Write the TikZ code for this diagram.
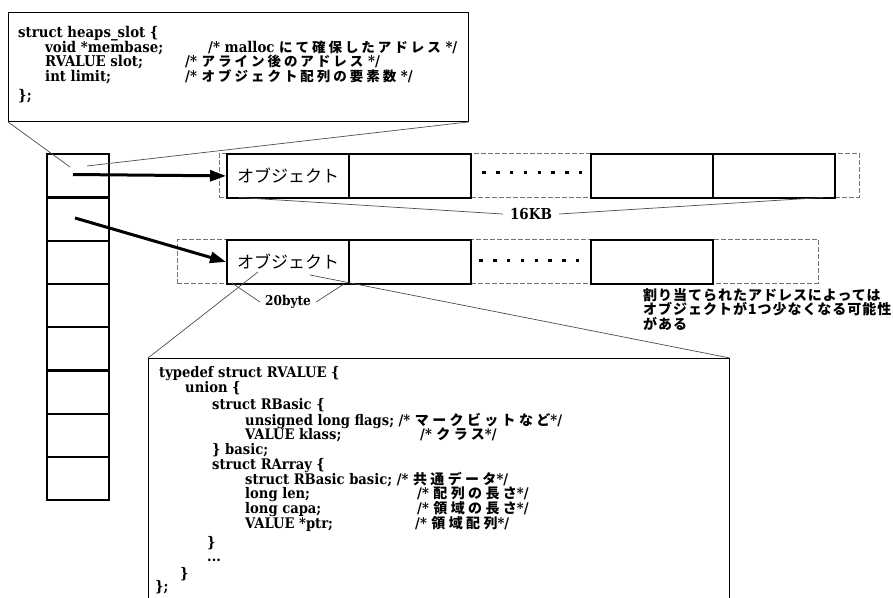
\documentclass[tikz,border=0pt]{standalone}
\usepackage{fontspec}
\setmainfont{DejaVu Serif}[FakeStretch=0.9]
\newfontfamily\jpa[LetterSpace=22]{Noto Sans CJK JP}
\newfontfamily\jpb[LetterSpace=24]{Noto Sans CJK JP}
\newfontfamily\jpc{Noto Sans CJK JP}
\newfontfamily\jpn[LetterSpace=7]{Noto Sans CJK JP}
\usetikzlibrary{arrows.meta}
\newcommand\ja[1]{{\jpa\bfseries\fontsize{13.5}{13.5}\selectfont #1}}
\newcommand\jb[1]{{\jpb\bfseries\fontsize{14}{14}\selectfont #1}}
\begin{document}
\begin{tikzpicture}[x=1pt,y=-1pt,
  thinln/.style={line width=0.7pt, draw=black!70},
  dashbox/.style={draw=black!55, line width=0.7pt, dash pattern=on 5pt off 2pt, inner sep=0pt, anchor=north west},
  cellbox/.style={draw, line width=2.3pt, minimum width=122pt, minimum height=43.5pt, inner sep=0pt, anchor=north west, font=\jpc\fontsize{17}{17}\selectfont},
  slotbox/.style={draw, line width=2.3pt, minimum width=62pt, minimum height=43.25pt, inner sep=0pt, anchor=north west},
  codebox/.style={draw, line width=0.9pt, inner sep=0pt, anchor=north west, fill=white},
  codeA/.style={anchor=base west, inner sep=0pt, text height=9.5pt, text depth=2.5pt, font=\bfseries\fontsize{14.8}{14.8}\selectfont},
  codeB/.style={anchor=base west, inner sep=0pt, text height=10pt, text depth=2.5pt, font=\bfseries\fontsize{14.6}{14.6}\selectfont},
  ptr/.style={line width=3pt, -{Triangle[length=16pt,width=11pt]}},
]
\useasboundingbox (0,0) rectangle (893,597);
\clip (0,0) rectangle (893,597);

% callout boxes
\node[codebox, minimum width=460pt, minimum height=109pt] (hs) at (8,12) {};
\node[codebox, minimum width=581pt, minimum height=260pt] (rv) at (148,358) {};

% slot column
\foreach \i in {0,...,7} \node[slotbox] (s\i) at (46,153+43.25*\i) {};

% row 1
\node[dashbox, minimum width=640pt, minimum height=43.5pt] (r1) at (219,153) {};
\node[cellbox] (a1) at (226,153) {オブジェクト};
\node[cellbox] (a2) at (348,153) {};
\node[cellbox] (a3) at (590,153) {};
\node[cellbox] (a4) at (712,153) {};
% row 2
\node[dashbox, minimum width=641pt, minimum height=43.5pt] (r2) at (177,239) {};
\node[cellbox] (b1) at (226,239) {オブジェクト};
\node[cellbox] (b2) at (348,239) {};
\node[cellbox] (b3) at (590,239) {};

% dots
\foreach \k in {0,...,7} {
  \fill (482.3+13.8*\k,171) rectangle +(3.4,3.4);
  \fill (479.3+13.8*\k,258.5) rectangle +(3.4,3.4);
}

% pointers
\coordinate (p1) at (73,174.5);
\coordinate (p2) at (75,218);
\draw[ptr] (p1) -- (a1.west);
\draw[ptr] (p2) -- (b1.west);

% callout lines
\coordinate (c1) at (70,167);
\coordinate (c2) at (87,166);
\draw[thinln] (hs.south west) -- (c1);
\draw[thinln] (c2) -- (hs.south east);
\coordinate (c3) at (258,272);
\coordinate (c4) at (310,275);
\draw[thinln] (rv.north west) -- (c3);
\draw[thinln] (c4) -- (rv.north east);

% 16KB
\node[font=\bfseries\fontsize{15}{15}\selectfont, inner xsep=7pt, inner ysep=1pt] (kb) at (531,214) {16KB};
\coordinate (k1) at (239,197.5);
\coordinate (k2) at (823,197.5);
\draw[thinln] (k1) -- (kb.west);
\draw[thinln] (kb.east) -- (k2);

% 20byte
\node[font=\bfseries\fontsize{13.5}{13.5}\selectfont, inner xsep=5pt, inner ysep=1pt] (tb) at (288,302) {20byte};
\coordinate (t1) at (232,283);
\coordinate (t2) at (344,284);
\draw[thinln] (t1) -- (tb.west);
\draw[thinln] (tb.east) -- (t2);

% note
\node[anchor=north west, font=\jpn\bfseries\fontsize{14}{12.7}\selectfont, align=left, inner sep=0pt] (note) at (643,288) {割り当てられたアドレスによっては\\オブジェクトが1つ少なくなる可能性\\がある};

% heaps_slot code
\node[codeA] (h1) at (18,37) {struct heaps\_slot \{};
\node[codeA] (h2) at (45,52) {void *membase;};
\node[codeA] (h2c) at (208,52) {/* malloc \ja{にて確保したアドレス} */};
\node[codeA] (h3) at (45,66.5) {RVALUE slot;};
\node[codeA] (h3c) at (185,66.5) {/* \ja{アライン後のアドレス} */};
\node[codeA] (h4) at (45,81) {int limit;};
\node[codeA] (h4c) at (185,81) {/* \ja{オブジェクト配列の要素数} */};
\node[codeA] (h5) at (18,100) {\};};

% RVALUE code
\node[codeB] (v1) at (159,377) {typedef struct RVALUE \{};
\node[codeB] (v2) at (185,392) {union \{};
\node[codeB] (v3) at (212,409) {struct RBasic \{};
\node[codeB] (v4) at (245,425) {unsigned long flags; /* \jb{マークビットなど}*/};
\node[codeB] (v5) at (245,439.5) {VALUE klass;};
\node[codeB] (v5c) at (420,439.5) {/* \jb{クラス}*/};
\node[codeB] (v6) at (212,454) {\} basic;};
\node[codeB] (v7) at (212,469) {struct RArray \{};
\node[codeB] (v8) at (245,484) {struct RBasic basic; /* \jb{共通データ}*/};
\node[codeB] (v9) at (245,498.5) {long len;};
\node[codeB] (v9c) at (417,498.5) {/* \jb{配列の長さ}*/};
\node[codeB] (v10) at (245,513) {long capa;};
\node[codeB] (v10c) at (417,513) {/* \jb{領域の長さ}*/};
\node[codeB] (v11) at (245,528) {VALUE *ptr;};
\node[codeB] (v11c) at (415,528) {/* \jb{領域配列}*/};
\node[codeB] (v12) at (207,547) {\}};
\node[codeB] (v13) at (207,561) {...};
\node[codeB] (v14) at (180,578) {\}};
\node[codeB] (v15) at (155,591) {\};};
\end{tikzpicture}
\end{document}
